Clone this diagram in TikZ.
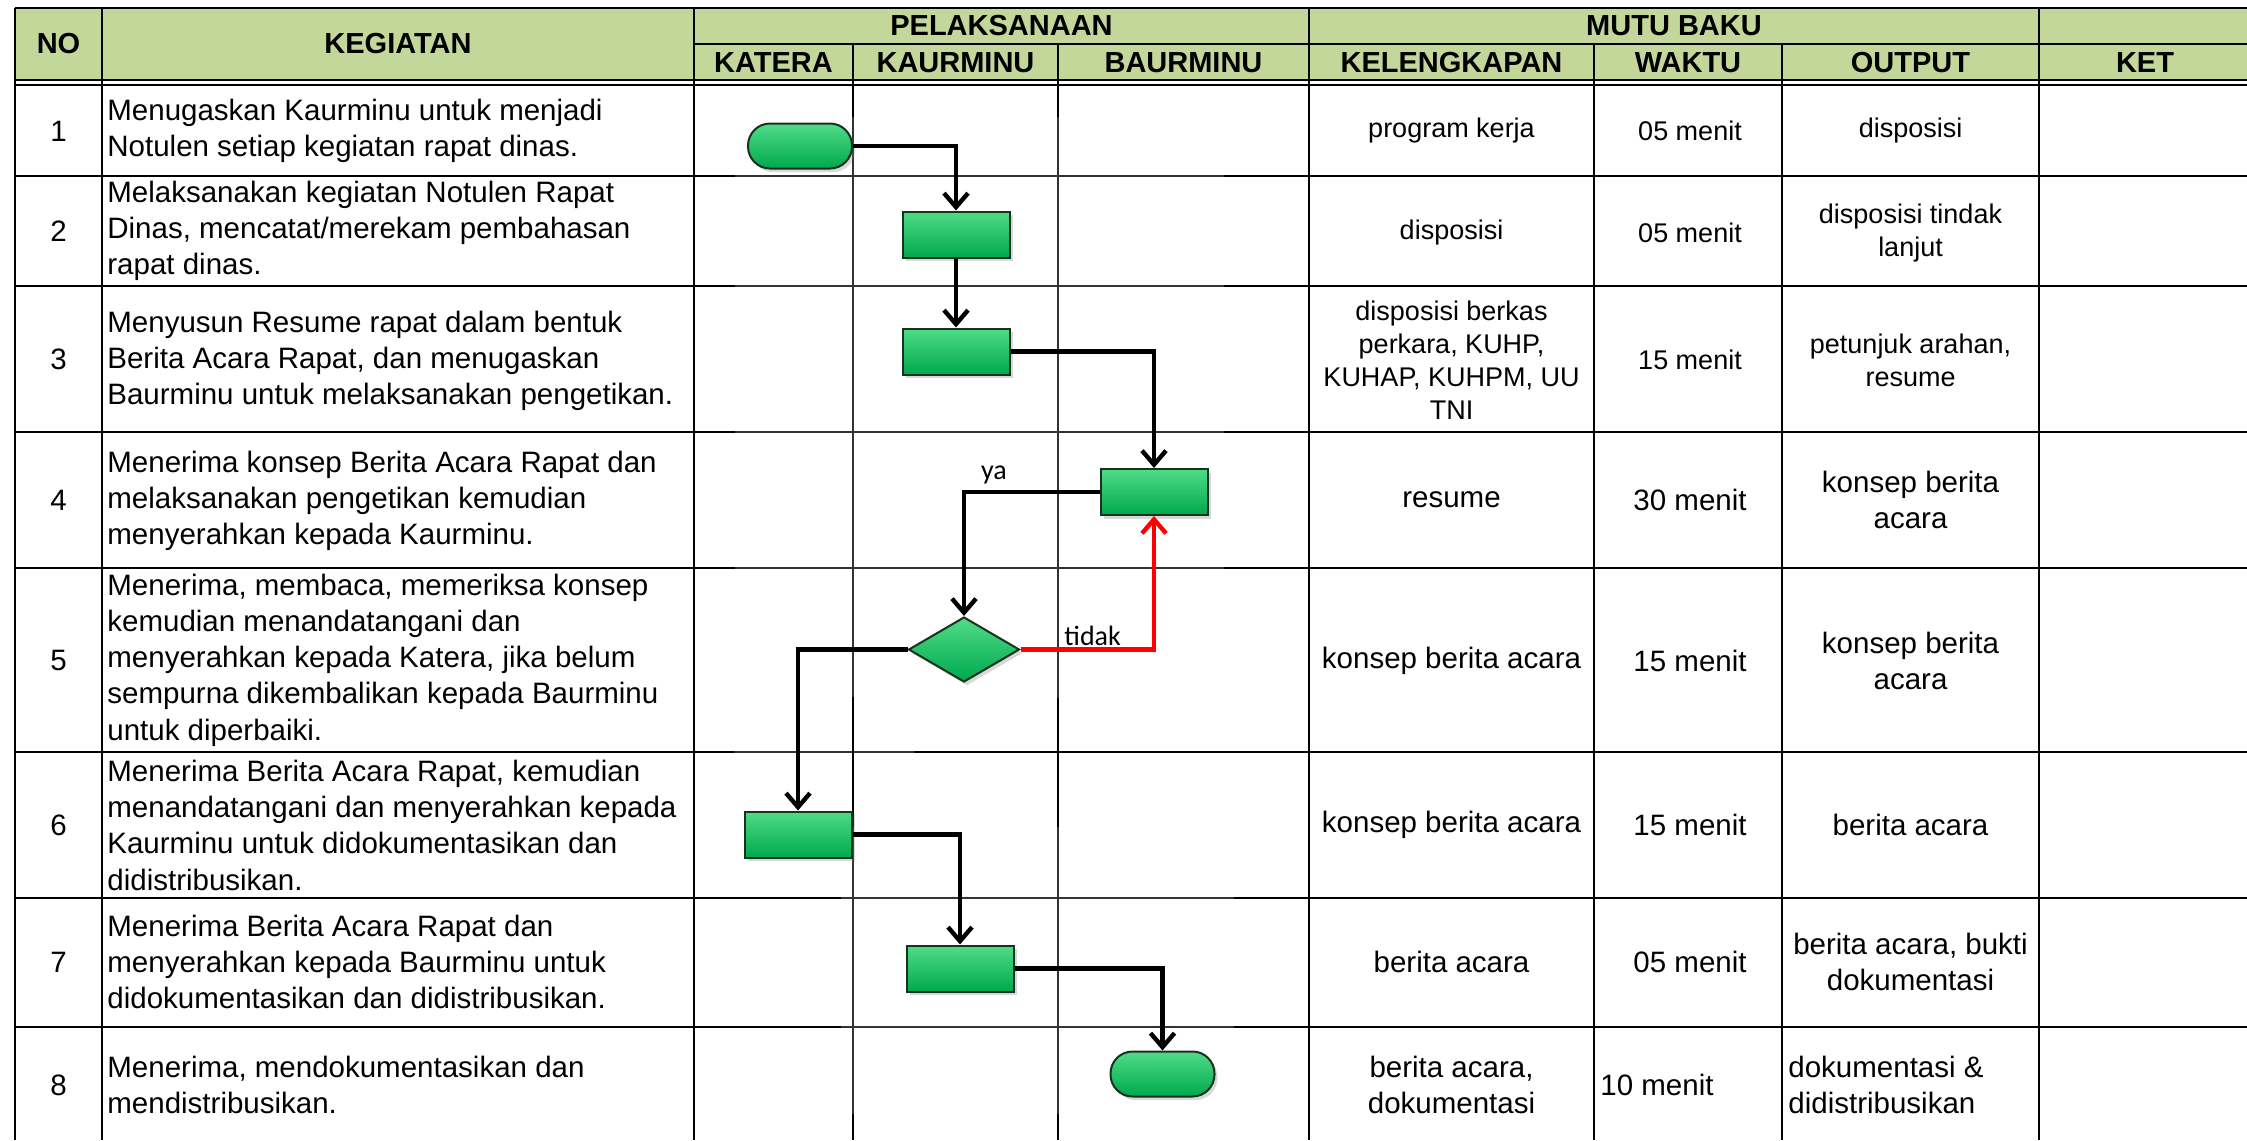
\documentclass[tikz,border=0pt]{standalone}
\usepackage{fontspec}
\setmainfont{Liberation Sans}
\newfontfamily\carlitofam{Carlito}
\usetikzlibrary{arrows.meta,shapes.geometric,shadows}
\definecolor{hdrgreen}{HTML}{C4D79B}
\definecolor{gtop}{RGB}{80,220,135}
\definecolor{gmid}{RGB}{12,188,92}
\definecolor{gbot}{RGB}{0,168,78}
\definecolor{gedge}{RGB}{25,50,30}
\newcommand\txtN{\fontsize{14.75pt}{18.15pt}\selectfont}
\newcommand\txtS{\fontsize{13.5pt}{16.5pt}\selectfont}
\newcommand\txtH{\bfseries\fontsize{14.5pt}{17pt}\selectfont}
\newcommand\txtL{\carlitofam\fontsize{14pt}{17pt}\selectfont}
\begin{document}
\begin{tikzpicture}[x=0.5pt,y=-0.5pt,
  tl/.style={line width=1.4pt, black},
  thn/.style={line width=0.65pt, black!80},
  hd/.style={font=\txtH, inner sep=0},
  cn/.style={font=\txtN, align=center, inner sep=0},
  cs/.style={font=\txtS, align=center, inner sep=0},
  lt/.style={font=\txtN, align=left, anchor=west, inner sep=0},
  flowbase/.style={draw=gedge, line width=1pt, top color=gtop, middle color=gmid, bottom color=gbot,
     drop shadow={opacity=0.3, shadow xshift=1.5pt, shadow yshift=-1.8pt}},
  proc/.style={flowbase, rectangle, minimum width=53.5pt, minimum height=23pt, inner sep=0},
  term/.style={flowbase, rectangle, rounded corners=11pt, minimum width=52pt, minimum height=22.5pt, inner sep=0},
  decis/.style={flowbase, diamond, minimum width=55.5pt, minimum height=32.5pt, inner sep=0},
  arr/.style={line width=2.2pt, -{Straight Barb[length=7pt,width=12pt]}},
  rarr/.style={arr, red},
  lbl/.style={font=\txtL, inner sep=0}
]
\useasboundingbox (0,0) rectangle (2247,1140);
\clip (0,0) rectangle (2247,1140);
\fill[white] (0,0) rectangle (2247,1140);

% header fill
\fill[hdrgreen] (15,8) rectangle (2247,80);

% thick table grid
\draw[tl] (15,8) -- (2247,8);
\draw[tl] (694,44) -- (2247,44);
\draw[line width=1pt] (15,80.3) -- (2247,80.3);
\draw[line width=1pt] (15,85) -- (2247,85);
\foreach \yy in {176,286,432,568,752,898,1027} \draw[tl] (15,\yy) -- (2247,\yy);
\foreach \xx in {15,102,694,1309,2039} \draw[tl] (\xx,8) -- (\xx,1140);
\foreach \xx in {853,1058,1594,1782} \draw[tl] (\xx,44) -- (\xx,1140);

% thin-lined regions (pasted flowchart)
\fill[white] (735,117) rectangle (1224,697);
\fill[white] (734,697) rectangle (914,880);
\fill[white] (841,827) rectangle (1234,1113);
\begin{scope}
  \clip (735,117) rectangle (1224,697);
  \foreach \yy in {176,286,432,568} \draw[thn] (600,\yy) -- (1400,\yy);
  \foreach \xx in {853,1058} \draw[thn] (\xx,0) -- (\xx,1140);
\end{scope}
\begin{scope}
  \clip (734,697) rectangle (914,880);
  \draw[thn] (600,752) -- (1400,752);
  \draw[tl] (853,600) -- (853,1000);
\end{scope}
\begin{scope}
  \clip (841,827) rectangle (1234,1113);
  \foreach \yy in {898,1027} \draw[thn] (600,\yy) -- (1400,\yy);
  \foreach \xx in {853,1058} \draw[thn] (\xx,0) -- (\xx,1140);
\end{scope}

% header texts
\node[hd] (hno) at (58.5,44) {NO};
\node[hd] (hkeg) at (398,44) {KEGIATAN};
\node[hd] (hpel) at (1001.5,26) {PELAKSANAAN};
\node[hd] (hmutu) at (1674,26) {MUTU BAKU};
\node[hd] (hkat) at (773.5,62.5) {KATERA};
\node[hd] (hkau) at (955.5,62.5) {KAURMINU};
\node[hd] (hbau) at (1183.5,62.5) {BAURMINU};
\node[hd] (hkel) at (1451.5,62.5) {KELENGKAPAN};
\node[hd] (hwak) at (1688,62.5) {WAKTU};
\node[hd] (hout) at (1910.5,62.5) {OUTPUT};
\node[hd] (hket) at (2145,62.5) {KET};

% NO column
\node[cn] (n1) at (58.5,131) {1};
\node[cn] (n2) at (58.5,231) {2};
\node[cn] (n3) at (58.5,359) {3};
\node[cn] (n4) at (58.5,500) {4};
\node[cn] (n5) at (58.5,660) {5};
\node[cn] (n6) at (58.5,825) {6};
\node[cn] (n7) at (58.5,962) {7};
\node[cn] (n8) at (58.5,1085) {8};

% KEGIATAN column
\node[lt] (k1) at (107,131) {Menugaskan Kaurminu untuk menjadi\\Notulen setiap kegiatan rapat dinas.};
\node[lt] (k2) at (107,231) {Melaksanakan kegiatan Notulen Rapat\\Dinas, mencatat/merekam pembahasan\\rapat dinas.};
\node[lt] (k3) at (107,361) {Menyusun Resume rapat dalam bentuk\\Berita Acara Rapat, dan menugaskan\\Baurminu untuk melaksanakan pengetikan.};
\node[lt] (k4) at (107,501) {Menerima konsep Berita Acara Rapat dan\\melaksanakan pengetikan kemudian\\menyerahkan kepada Kaurminu.};
\node[lt] (k5) at (107,660) {Menerima, membaca, memeriksa konsep\\kemudian menandatangani dan\\menyerahkan kepada Katera, jika belum\\sempurna dikembalikan kepada Baurminu\\untuk diperbaiki.};
\node[lt] (k6) at (107,825) {Menerima Berita Acara Rapat, kemudian\\menandatangani dan menyerahkan kepada\\Kaurminu untuk didokumentasikan dan\\didistribusikan.};
\node[lt] (k7) at (107,962) {Menerima Berita Acara Rapat dan\\menyerahkan kepada Baurminu untuk\\didokumentasikan dan didistribusikan.};
\node[lt] (k8) at (107,1085) {Menerima, mendokumentasikan dan\\mendistribusikan.};

% MUTU BAKU columns
\node[cs] (kel1) at (1451.5,131) {program kerja};
\node[cs] (w1) at (1690,131) {05 menit};
\node[cs] (o1) at (1910.5,131) {disposisi};
\node[cs] (kel2) at (1451.5,233) {disposisi};
\node[cs] (w2) at (1690,233) {05 menit};
\node[cs] (o2) at (1910.5,233) {disposisi tindak\\lanjut};
\node[cs] (kel3) at (1451.5,360) {disposisi berkas\\perkara, KUHP,\\KUHAP, KUHPM, UU\\TNI};
\node[cs] (w3) at (1690,360) {15 menit};
\node[cs] (o3) at (1910.5,360) {petunjuk arahan,\\resume};
\node[cn] (kel4) at (1451.5,500) {resume};
\node[cn] (w4) at (1690,500) {30 menit};
\node[cn] (o4) at (1910.5,500) {konsep berita\\acara};
\node[cn] (kel5) at (1451.5,661) {konsep berita acara};
\node[cn] (w5) at (1690,661) {15 menit};
\node[cn] (o5) at (1910.5,661) {konsep berita\\acara};
\node[cn] (kel6) at (1451.5,825) {konsep berita acara};
\node[cn] (w6) at (1690,825) {15 menit};
\node[cn] (o6) at (1910.5,825) {berita acara};
\node[cn] (kel7) at (1451.5,962) {berita acara};
\node[cn] (w7) at (1690,962) {05 menit};
\node[cn] (o7) at (1910.5,962) {berita acara, bukti\\dokumentasi};
\node[cn] (kel8) at (1451.5,1085) {berita acara,\\dokumentasi};
\node[lt] (w8) at (1600,1085) {10 menit};
\node[lt] (o8) at (1788,1085) {dokumentasi \&\\didistribusikan};

% flowchart shapes
\node[term] (start) at (800,146) {};
\node[proc] (b2) at (956,234.5) {};
\node[proc] (b3) at (956,351.5) {};
\node[proc] (b4) at (1154,492) {};
\node[decis] (dec) at (964,649.5) {};
\node[proc] (b6) at (798,834.5) {};
\node[proc] (b7) at (960,968.5) {};
\node[term] (stop) at (1162.5,1074) {};

% connectors
\draw[arr] (start.east) -| (b2.north);
\draw[arr] (b2.south) -- (b3.north);
\draw[arr] (b3.east) -| (b4.north);
\draw[arr] (b4.west) -| (dec.north);
\draw[rarr] (dec.east) -| (b4.south);
\draw[arr] (dec.west) -| (b6.north);
\draw[arr] (b6.east) -| (b7.north);
\draw[arr] (b7.east) -| (stop.north);

\node[lbl, anchor=base] (ya) at (994,479) {ya};
\node[lbl, anchor=base west] (tidak) at (1064,645) {tidak};
\end{tikzpicture}
\end{document}
